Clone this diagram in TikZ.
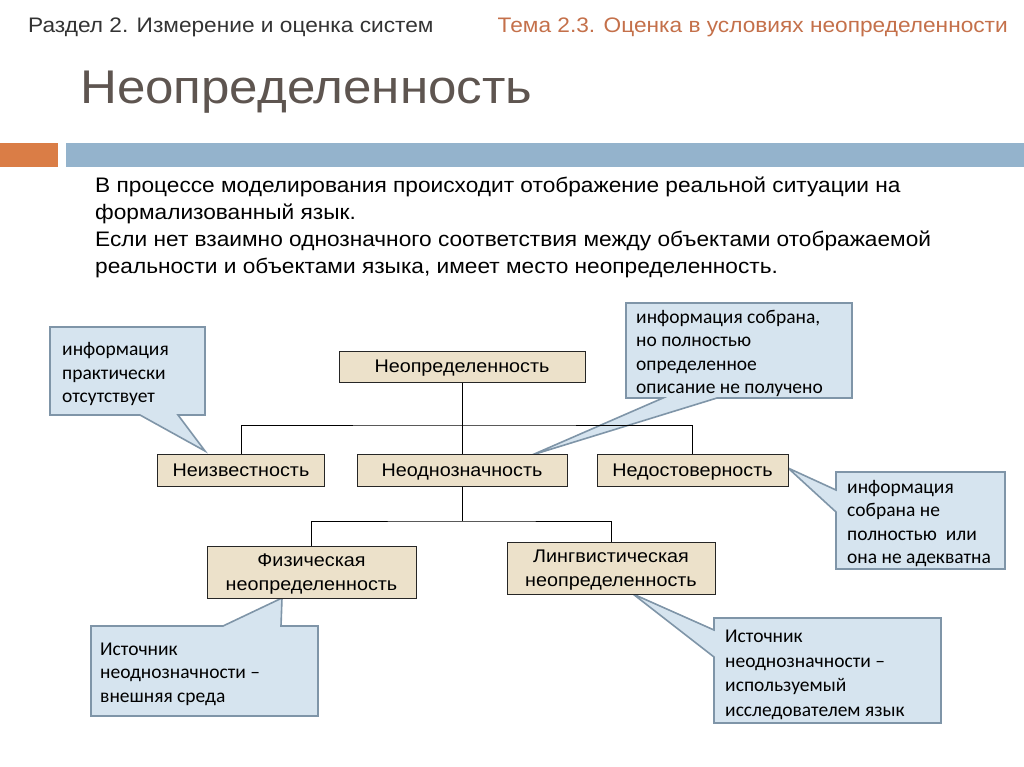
\documentclass[tikz,border=0pt]{standalone}
\usepackage{fontspec}
\setmainfont[FakeStretch=1.08]{Liberation Sans}
\newfontfamily\notefont{Carlito}
\usetikzlibrary{calc}
\usetikzlibrary{backgrounds}

\definecolor{boxfill}{RGB}{236,225,202}
\definecolor{notefill}{RGB}{214,228,239}
\definecolor{noteline}{RGB}{127,149,168}
\definecolor{barblue}{RGB}{148,179,204}
\definecolor{barorange}{RGB}{218,125,70}
\definecolor{titlegray}{RGB}{94,85,80}
\definecolor{temaorange}{RGB}{196,112,74}

\tikzset{
  term/.style={draw=black!85, fill=boxfill, line width=1pt, font=\fontsize{18.3}{24}\selectfont, inner sep=0pt, align=center, text depth=0pt},
  note/.style={font=\notefont\fontsize{19.5}{23.5}\selectfont, align=left, inner sep=0pt, anchor=west},
  bubble/.style={draw=noteline, fill=notefill, line width=1.6pt, line join=miter},
  link/.style={black, line width=1pt},
}

\begin{document}
\begin{tikzpicture}[x=1pt,y=-1pt]
\useasboundingbox (0,0) rectangle (1024,767);
% header
\node[anchor=base west, inner sep=0, font=\fontsize{21}{24}\selectfont, text=black!80] (razdel) at (28,33) {Раздел 2. Измерение и оценка систем};
\node[anchor=base east, inner sep=0, font=\fontsize{21}{24}\selectfont, text=temaorange] (tema) at (1008,33) {Тема 2.3. Оценка в условиях неопределенности};
\node[anchor=base west, inner sep=0, font=\fontsize{47.3}{50}\selectfont, text=titlegray] (title) at (80,104) {Неопределенность};
\fill[barorange] (0,143) rectangle (58,167);
\fill[barblue] (66,143) rectangle (1024,167);

% intro
\node[anchor=base west, inner sep=0, align=left, font=\fontsize{21}{26.7}\selectfont] (intro) at (95,273)
  {В процессе моделирования происходит отображение реальной ситуации на\\
   формализованный язык.\\
   Если нет взаимно однозначного соответствия между объектами отображаемой\\
   реальности и объектами языка, имеет место неопределенность.};

% tree
\node[term, minimum width=246pt, minimum height=31pt] (root) at (462,366.5) {Неопределенность};
\node[term, minimum width=167pt, minimum height=32pt] (unknown) at (241,470) {Неизвестность};
\node[term, minimum width=210pt, minimum height=32pt] (ambig) at (462,470) {Неоднозначность};
\node[term, minimum width=191pt, minimum height=32pt] (unrel) at (692.5,470) {Недостоверность};
\node[term, minimum width=209pt, minimum height=52pt] (phys) at (311.5,572) {Физическая\\неопределенность};
\node[term, minimum width=208pt, minimum height=52pt] (ling) at (611,568) {Лингвистическая\\неопределенность};

\coordinate (bus1) at (462,425);
\coordinate (bus2) at (462,521);
\draw[link] (root.south) -- (ambig.north);
\draw[link] (unknown.north) |- (bus1) -| (unrel.north);
\draw[link] (ambig.south) -- (bus2);
\draw[link] (phys.north) |- (bus2) -| (ling.north);

% notes
\node[note] (n1) at (62,374) {информация\\практически\\отсутствует};
\node[note] (n2) at (636,353.5) {информация собрана,\\но полностью\\определенное\\описание не получено};
\node[note] (n3) at (847,523.5) {информация\\собрана не\\полностью\ \ или\\она не адекватна};
\node[note] (n4) at (100,674) {Источник\\неоднозначности –\\внешняя среда};
\node[note, font=\notefont\fontsize{19.5}{24.5}\selectfont] (n5) at (725,675) {Источник\\неоднозначности –\\используемый\\исследователем язык};

\coordinate (t1) at (205,451);
\coordinate (t2) at (532,455);
\coordinate (t3) at (788,468);
\coordinate (t4) at (282,598);
\coordinate (t5) at (633,594);

\begin{scope}[on background layer]
\draw[bubble] (50,327) -- (205,327) -- (205,415) -- (178,415) -- (t1) -- (140,415) -- (50,415) -- cycle;
\draw[bubble] (626,303) -- (852,303) -- (852,398) -- (717,398) -- (t2) -- (663,398) -- (626,398) -- cycle;
\draw[bubble] (836,472) -- (1005,472) -- (1005,569) -- (836,569) -- (836,512) -- (t3) -- (836,490) -- cycle;
\draw[bubble] (91,626) -- (223,626) -- (t4) -- (281,626) -- (318,626) -- (318,716) -- (91,716) -- cycle;
\draw[bubble] (714,618) -- (941,618) -- (941,723) -- (714,723) -- (714,657) -- (t5) -- (714,630) -- cycle;
\end{scope}
\end{tikzpicture}
\end{document}
